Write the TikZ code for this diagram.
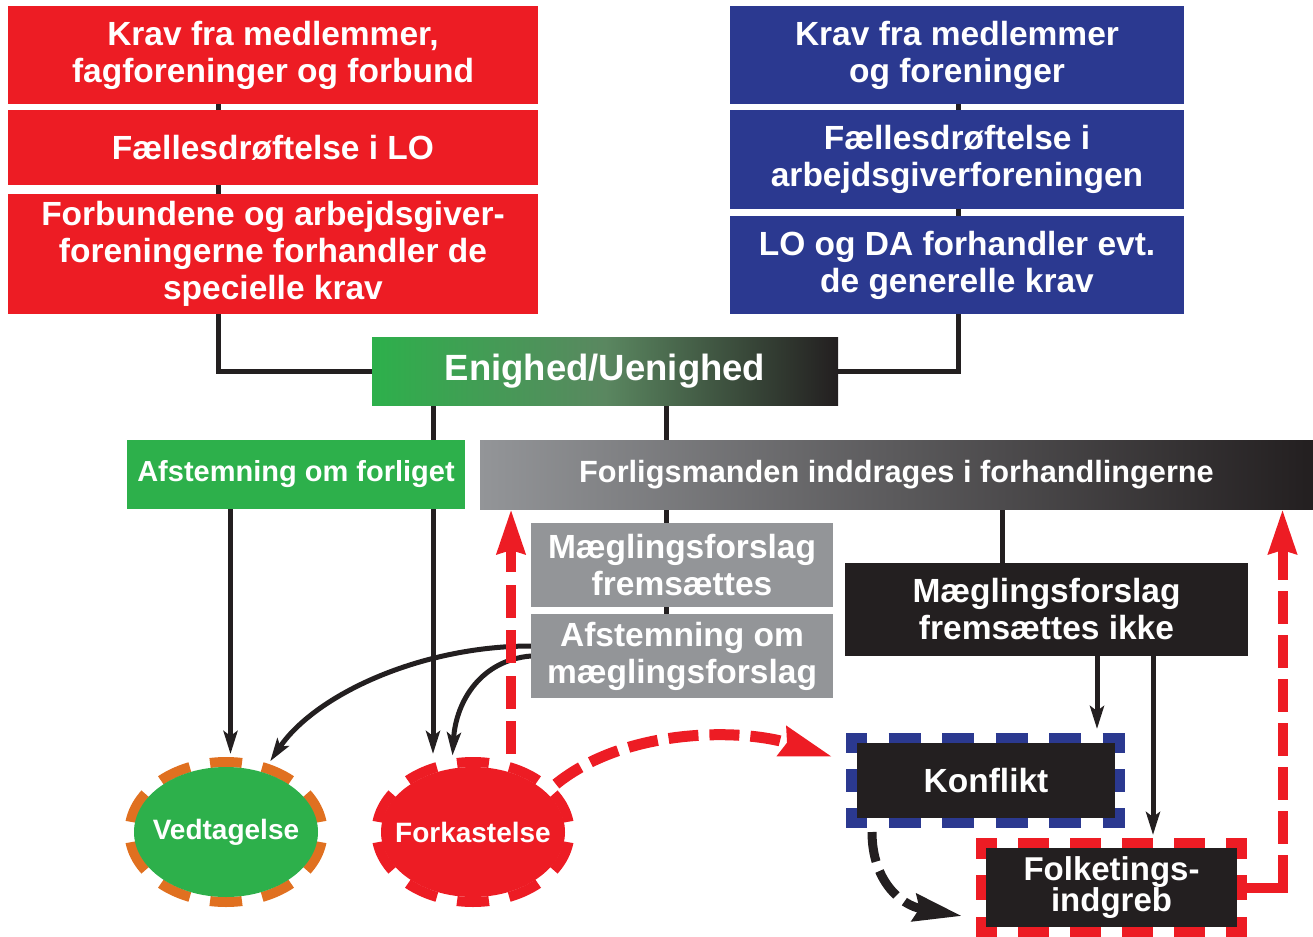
\documentclass[tikz,border=0pt]{standalone}
\usepackage{fontspec}
\setmainfont{Liberation Sans}
\usetikzlibrary{arrows.meta,shapes.geometric,calc,backgrounds}
\definecolor{cred}{HTML}{ED1C24}
\definecolor{cblue}{HTML}{2B3990}
\definecolor{cgreen}{HTML}{2DB04B}
\definecolor{cblack}{HTML}{231F20}
\definecolor{cgray}{HTML}{939598}
\definecolor{corange}{HTML}{E07020}
\definecolor{cmidgreen}{HTML}{5A8760}
\begin{document}
\begin{tikzpicture}[x=1pt,y=-1pt,
  box/.style={rectangle, inner sep=0pt, outer sep=0pt, text=white, align=center,
    font=\bfseries\fontsize{33.5}{37}\selectfont},
  redbox/.style={box, fill=cred, minimum width=530pt},
  bluebox/.style={box, fill=cblue, minimum width=454pt},
  graybox/.style={box, fill=cgray, minimum width=302pt, minimum height=84pt},
  blackbox/.style={box, fill=cblack},
  conn/.style={draw=cblack, line width=5pt},
  arr/.style={conn, -{Stealth[length=23pt,width=14pt,inset=5pt]}},
  oval/.style={ellipse, inner sep=0pt, outer sep=13pt, minimum width=184pt, minimum height=130pt},
  ring/.style={line width=10pt, dash pattern=on 32pt off 20.64pt, dash phase=42.3pt},
  lbl/.style={text=white, inner sep=0pt, font=\bfseries\fontsize{28}{30}\selectfont},
  redtip/.style={-{Stealth[length=44pt,width=27pt,inset=3pt]}},
  reddashA/.style={draw=cred, line width=10pt, dash pattern=on 33pt off 12.5pt, redtip},
  reddashB/.style={draw=cred, line width=10pt, dash pattern=on 33pt off 11pt, redtip},
  bluefrH/.style={draw=cblue, line width=10.5pt, dash pattern=on 32pt off 21.5pt, dash phase=11pt},
  bluefrV/.style={draw=cblue, line width=10.5pt, dash pattern=on 20pt off 16pt on 23pt off 16pt on 20pt off 5pt},
  redfrH/.style={draw=cred, line width=10pt, dash pattern=on 31pt off 21pt, dash phase=10pt},
  redfrV/.style={draw=cred, line width=10pt, dash pattern=on 21pt off 16pt on 25pt off 17pt on 20pt off 5pt},
]
\useasboundingbox (0,0) rectangle (1313,936);

% column coordinates
\coordinate (cA) at (218.5,0);
\coordinate (cB) at (958,0);
\coordinate (cC) at (433,0);
\coordinate (cD) at (230.5,0);
\coordinate (cE) at (666.5,0);
\coordinate (cF) at (1002,0);
\coordinate (cG) at (1097,0);
\coordinate (cH) at (1153,0);
\coordinate (cR1) at (511,0);
\coordinate (cR2) at (1282.5,0);

% red column
\node[redbox, minimum height=98pt] (r1) at (273,55) {Krav fra medlemmer,\\fagforeninger og forbund};
\node[redbox, minimum height=75pt] (r2) at (273,147.5) {Fællesdrøftelse i LO};
\node[redbox, minimum height=120pt] (r3) at (273,254) {Forbundene og arbejdsgiver-\\foreningerne forhandler de\\specielle krav};

% blue column
\node[bluebox, minimum height=98pt] (b1) at (957,55) {Krav fra medlemmer\\og foreninger};
\node[bluebox, minimum height=99pt] (b2) at (957,159.5) {Fællesdrøftelse i\\arbejdsgiverforeningen};
\node[bluebox, minimum height=98pt] (b3) at (957,265) {LO og DA forhandler evt.\\de generelle krav};

% Enighed
\node[box, minimum width=466pt, minimum height=68pt, left color=cgreen, right color=cblack, middle color=cmidgreen,
      font=\bfseries\fontsize{36.5}{40}\selectfont] (en) at (605,371) {Enighed/Uenighed};

% second row
\node[box, fill=cgreen, minimum width=338pt, minimum height=69pt,
      font=\bfseries\fontsize{29}{32}\selectfont] (afor) at (296,474.5) {Afstemning om forliget};
\node[box, minimum width=833pt, minimum height=69pt, left color=cgray, right color=cblack,
      font=\bfseries\fontsize{30.7}{34}\selectfont] (forl) at (896.5,474.5) {Forligsmanden inddrages i forhandlingerne};

% gray boxes
\node[graybox] (mf1) at (682,565) {Mæglingsforslag\\fremsættes};
\node[graybox] (mf2) at (682,656) {Afstemning om\\mæglingsforslag};

% black box
\node[blackbox, minimum width=403pt, minimum height=93pt] (mfi) at (1046.5,609.5) {Mæglingsforslag\\fremsættes ikke};

% ovals
\draw[ring, draw=corange] (226,832) ellipse [x radius=96.5pt, y radius=70pt];
\node[oval, fill=cgreen, label={[lbl]center:Vedtagelse}] (ved) at (226,832) {};
\draw[ring, draw=cred] (473,832) ellipse [x radius=96.5pt, y radius=70pt];
\node[oval, fill=cred, label={[lbl]center:Forkastelse}] (fork) at (473,832) {};

% Konflikt frame and box
\draw[bluefrH] (846,738.25) -- (1125,738.25);
\draw[bluefrH] (846,822.75) -- (1125,822.75);
\draw[bluefrV] (851.25,733) -- (851.25,828);
\draw[bluefrV] (1119.75,733) -- (1119.75,828);
\node[blackbox, minimum width=258pt, minimum height=75pt, outer sep=14pt] (konf) at (986,780.5) {Konflikt};

% Folketingsindgreb frame and box
\draw[redfrH] (976,843) -- (1247,843);
\draw[redfrH] (976,932) -- (1247,932);
\draw[redfrV] (981,838) -- (981,937);
\draw[redfrV] (1242,838) -- (1242,937);
\node[blackbox, minimum width=251pt, minimum height=79pt, outer sep=13pt,
      font=\bfseries\fontsize{33}{31}\selectfont] (folk) at (1111.5,887.5) {Folketings-\\indgreb};

\begin{pgfonlayer}{background}
\draw[conn] (r1.south -| cA) -- (r3.north -| cA);
\draw[conn] (r3.south -| cA) |- (en.west);
\draw[conn] (b1.south -| cB) -- (b3.north -| cB);
\draw[conn] (b3.south -| cB) |- (en.east);
\draw[conn] (en.south -| cE) -- (forl.north -| cE);
\draw[conn] (forl.south -| cE) -- (mf2.north -| cE);
\draw[conn] (forl.south -| cF) -- (mfi.north -| cF);
\draw[arr] (en.south -| cC) -- (cC |- fork.north);
\draw[arr] (afor.south -| cD) -- (cD |- ved.north);
\draw[arr] (mfi.south -| cG) -- (cG |- konf.north);
\draw[arr] (mfi.south -| cH) -- (cH |- folk.north);
\draw[arr] ($(mf2.west)+(0,-10)$) .. controls (420,646) and (315,695) .. (ved.58);
\draw[arr] (mf2.west) .. controls (482,660) and (456,700) .. (fork.105);
% red dashed arrows
\draw[reddashA] (cR1 |- fork.north) -- (cR1 |- forl.south);
\draw[draw=cred, line width=10pt, line cap=rect] (folk.east) -- (folk.east -| cR2);
\draw[reddashB] (folk.east -| cR2) -- (cR2 |- forl.south);
\draw[draw=cred, line width=11pt, dash pattern=on 30pt off 11pt,
      -{Stealth[length=52pt,width=29pt,inset=4pt]}]
  (fork.30) .. controls (625,728) and (740,728) .. ($(konf.west)+(-10,-23.5)$);
% black dashed arrow
\draw[draw=cblack, line width=9pt, dash pattern=on 30pt off 10pt,
      -{Stealth[length=48pt,width=27pt,inset=5pt]}]
  ($(konf.south west)+(29,0)$) .. controls (872,880) and (900,905) .. ($(folk.west)+(-11,28.5)$);
\end{pgfonlayer}
\end{tikzpicture}
\end{document}
